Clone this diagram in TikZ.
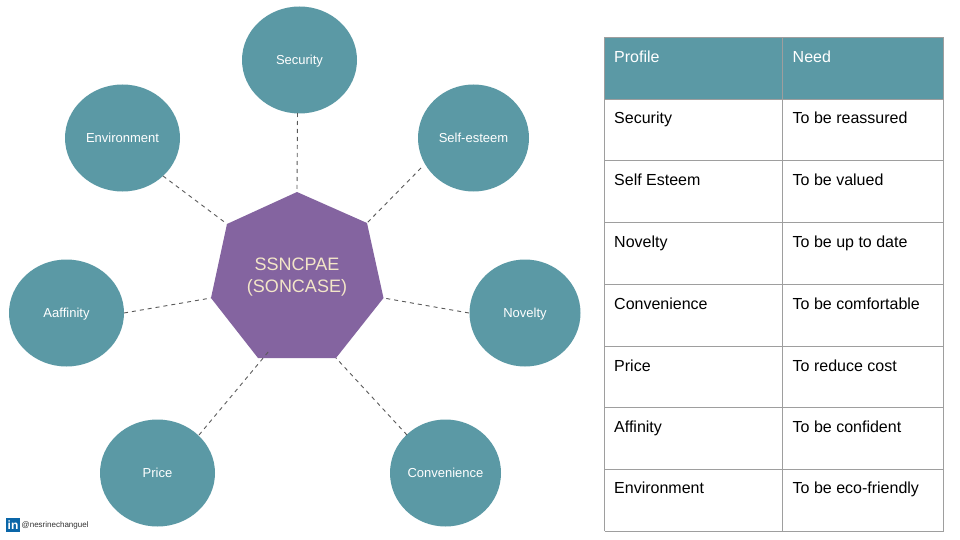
\documentclass[tikz,border=0pt]{standalone}
\usepackage{fontspec}
\setmainfont{Liberation Sans}
\usetikzlibrary{shapes.geometric}
\definecolor{teal1}{HTML}{5B99A5}
\definecolor{purp}{HTML}{8464A0}
\definecolor{cream}{HTML}{F3E6C8}
\definecolor{grid}{HTML}{9E9E9E}
\definecolor{lnk}{HTML}{0A66A8}
\tikzset{
  bubble/.style={ellipse,fill=teal1,text=white,inner sep=0pt,text height=10pt,text depth=1pt,font=\fontsize{13}{15}\selectfont},
  link/.style={draw=black!65,line width=0.9pt,dash pattern=on 4pt off 4pt},
  cell/.style={anchor=base west,inner sep=0pt,font=\fontsize{16}{18}\selectfont},
  gridline/.style={draw=grid,line width=1pt}
}
\begin{document}
\begin{tikzpicture}[x=1pt,y=-1pt]
\useasboundingbox[fill=white] (0,0) rectangle (960,540);
% ellipses
\node[bubble,minimum width=115pt,minimum height=107pt] (sec) at (299.5,60) {Security};
\node[bubble,minimum width=111pt,minimum height=107pt] (est) at (473.5,138) {Self-esteem};
\node[bubble,minimum width=111pt,minimum height=107pt] (nov) at (525,313) {Novelty};
\node[bubble,minimum width=111pt,minimum height=107pt] (con) at (445.5,473) {Convenience};
\node[bubble,minimum width=115pt,minimum height=107pt] (pri) at (157.5,473) {Price};
\node[bubble,minimum width=115pt,minimum height=107pt] (aff) at (66.5,313) {Aaffinity};
\node[bubble,minimum width=115pt,minimum height=107pt] (env) at (122.5,138) {Environment};
% heptagon
\coordinate (h1) at (297,192);
\coordinate (h2) at (367,223);
\coordinate (h3) at (383.5,298);
\coordinate (h4) at (336,358);
\coordinate (h5) at (258,358);
\coordinate (h6) at (211,298);
\coordinate (h7) at (227,224);
\coordinate (h8) at (269,351);
\fill[purp] (h1)--(h2)--(h3)--(h4)--(h5)--(h6)--(h7)--cycle;
\node[text=cream,align=center,inner sep=0pt,font=\fontsize{18}{22}\selectfont] (hub) at (297,277) {SSNCPAE\\(SONCASE)};
% connectors
\coordinate (s1) at (297.5,113);
\coordinate (s2) at (421,168);
\coordinate (s3) at (469,313);
\coordinate (s4) at (407,435);
\coordinate (s5) at (199,435);
\coordinate (s6) at (124,313);
\coordinate (s7) at (163,176);
\draw[link] (s1)--(h1);
\draw[link] (s2)--(h2);
\draw[link] (s3)--(h3);
\draw[link] (s4)--(h4);
\draw[link] (s5)--(h8);
\draw[link] (s6)--(h6);
\draw[link] (s7)--(h7);
% table
\fill[teal1] (604.5,37.5) rectangle (943.5,99.5);
\foreach \y in {37.5,99.5,161,222.5,284.5,346.5,407.5,469.5,531}
  \draw[gridline] (604.5,\y)--(943.5,\y);
\foreach \x in {604.5,782.5,943.5}
  \draw[gridline] (\x,37.5)--(\x,531);
\node[cell,text=white] (p0) at (614,62.5) {Profile};
\node[cell,text=white] (n0) at (792.5,62.5) {Need};
\node[cell] (p1) at (614,124) {Security};
\node[cell] (n1) at (792.5,124) {To be reassured};
\node[cell] (p2) at (614,185.7) {Self Esteem};
\node[cell] (n2) at (792.5,185.7) {To be valued};
\node[cell] (p3) at (614,247.3) {Novelty};
\node[cell] (n3) at (792.5,247.3) {To be up to date};
\node[cell] (p4) at (614,309.3) {Convenience};
\node[cell] (n4) at (792.5,309.3) {To be comfortable};
\node[cell] (p5) at (614,371) {Price};
\node[cell] (n5) at (792.5,371) {To reduce cost};
\node[cell] (p6) at (614,432.3) {Affinity};
\node[cell] (n6) at (792.5,432.3) {To be confident};
\node[cell] (p7) at (614,493.7) {Environment};
\node[cell] (n7) at (792.5,493.7) {To be eco-friendly};
% credit
\node[fill=lnk,text=white,minimum size=14pt,inner sep=0pt,font=\bfseries\fontsize{12}{12}\selectfont] (li) at (13,525) {in};
\node[anchor=west,inner sep=0pt,text=black!80,font=\fontsize{8}{10}\selectfont] (cr) at (21.5,525) {@nesrinechanguel};
\end{tikzpicture}
\end{document}
